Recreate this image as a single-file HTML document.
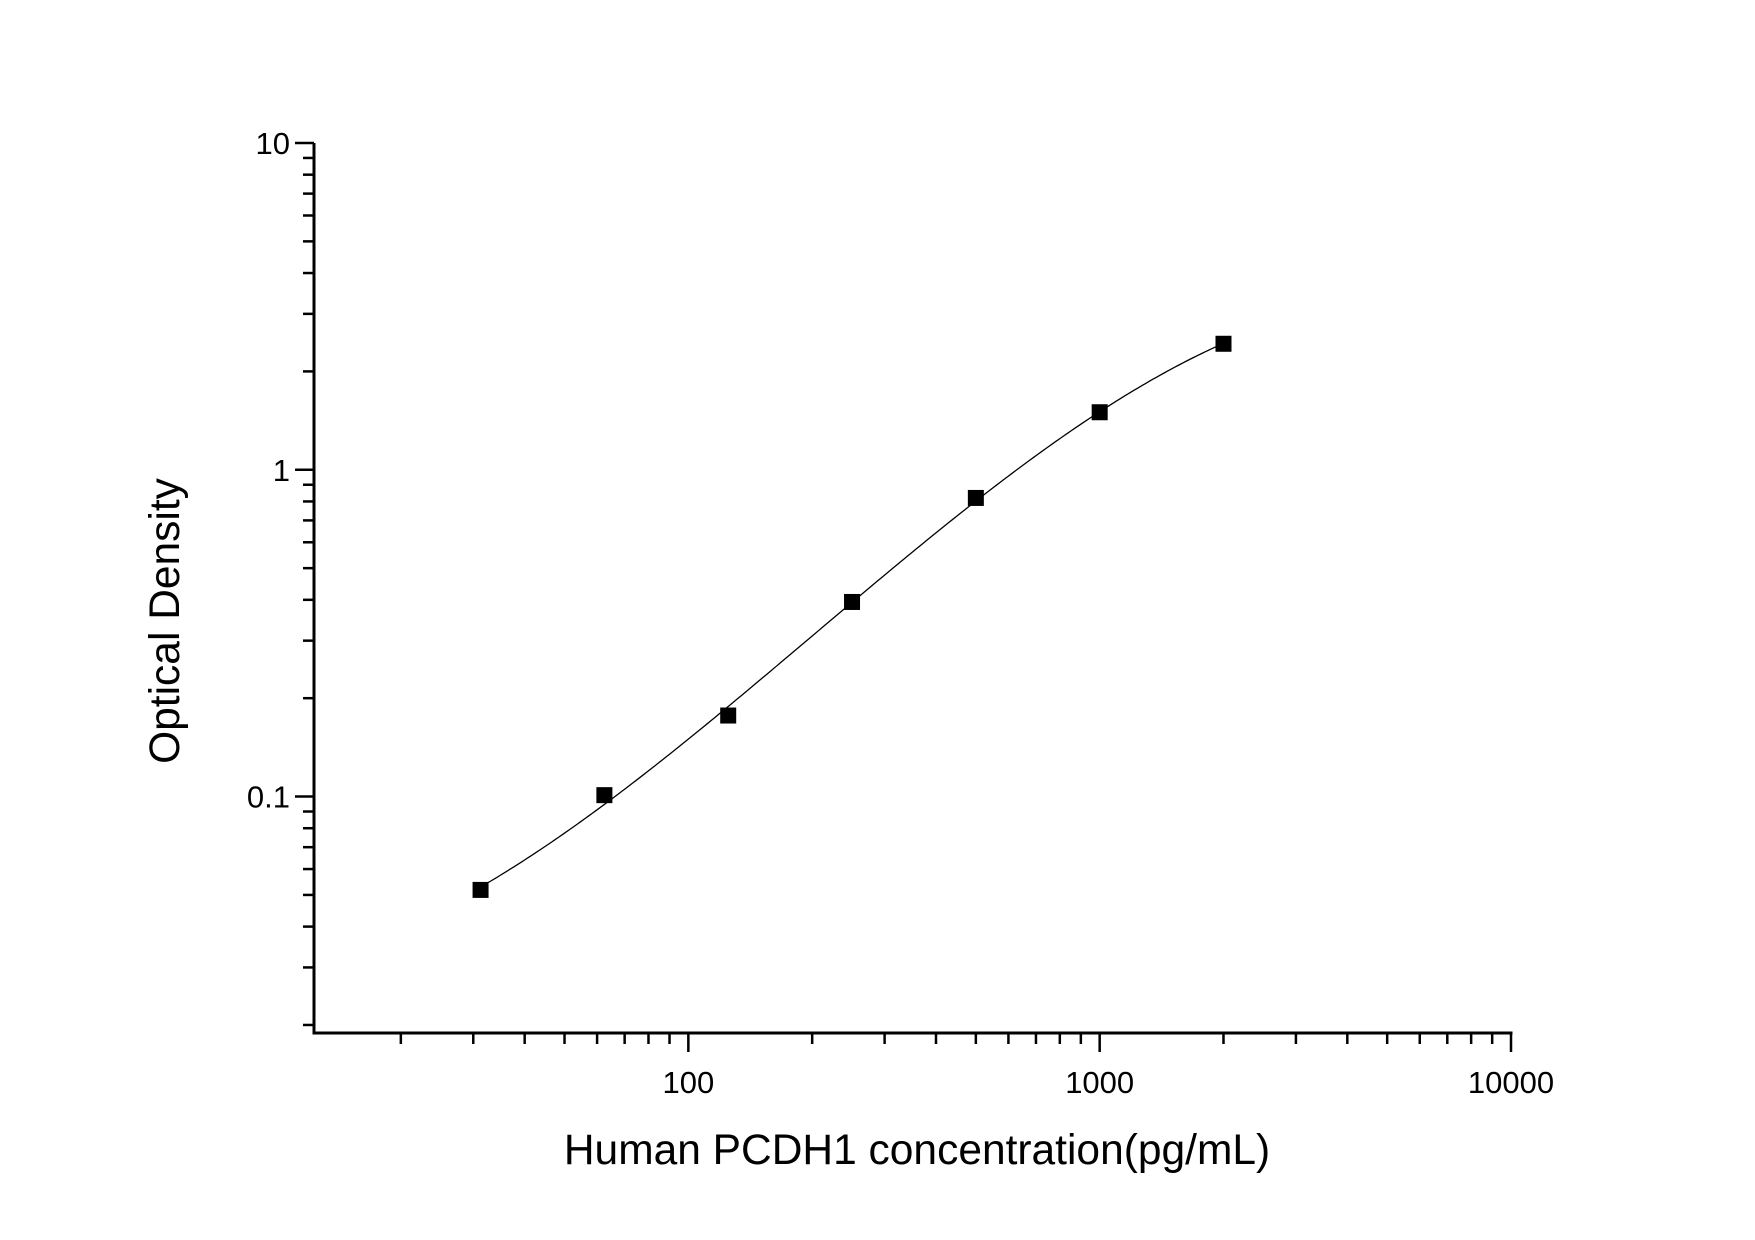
<!DOCTYPE html>
<html><head><meta charset="utf-8"><style>
body{margin:0;background:#fff}
svg{display:block;font-family:"Liberation Sans",Arial,sans-serif}
</style></head><body>
<svg id="chart" width="1755" height="1240" viewBox="0 0 1755 1240" xmlns="http://www.w3.org/2000/svg">
<rect width="1755" height="1240" fill="#fff"/>
<g id="axes"></g>
<g id="series"></g>
<text x="917" y="1164" font-size="42.5" text-anchor="middle">Human PCDH1 concentration(pg/mL)</text>
<text transform="translate(179,621) rotate(-90)" font-size="42.5" text-anchor="middle">Optical Density</text>
</svg>
<script>
const concentrations=[31.25,62.5,125,250,500,1000,2000];
const odValues=[0.0518,0.101,0.177,0.394,0.82,1.50,2.43];
const xTickValues=[100,1000,10000];
const xTickLabels=["100","1000","10000"];
const yTickValues=[0.1,1,10];
const yTickLabels=["0.1","1","10"];
const xMin=12.3,xMax=10000,yMin=0.0189,yMax=10;
const L=314,R=1511,T=143,B=1033;
const NS="http://www.w3.org/2000/svg";
function xs(v){return L+(Math.log10(v)-Math.log10(xMin))/(Math.log10(xMax)-Math.log10(xMin))*(R-L);}
function ys(v){return B-(Math.log10(v)-Math.log10(yMin))/(Math.log10(yMax)-Math.log10(yMin))*(B-T);}
function mk(tag,attrs,parent){const e=document.createElementNS(NS,tag);for(const k in attrs)e.setAttribute(k,attrs[k]);parent.appendChild(e);return e;}
const ax=document.getElementById('axes'),se=document.getElementById('series');
const xl=mk('line',{x1:L,y1:B,x2:R+1.5,y2:B,stroke:'#000','stroke-width':3},ax);


const yl=mk('line',{x1:L,y1:B+1.5,x2:L,y2:T,stroke:'#000','stroke-width':3},ax);


for(let d=10;d<=10000;d*=10){for(let m=1;m<10;m++){const v=d*m;if(v<xMin||v>xMax)continue;const x=xs(v);const major=m===1;
const t=mk('line',{x1:x,y1:B,x2:x,y2:B+(major?19:11),stroke:'#000','stroke-width':2.5},ax);

}}
xTickValues.forEach((v,i)=>{const t=mk('text',{x:xs(v),y:1093,'font-size':31,'text-anchor':'middle'},ax);t.textContent=xTickLabels[i];

});
for(let d=0.01;d<=10;d*=10){for(let m=1;m<10;m++){const v=d*m;if(v<yMin||v>yMax*1.0001)continue;const y=ys(v);const major=m===1;
const t=mk('line',{x1:L,y1:y,x2:L-(major?19:11),y2:y,stroke:'#000','stroke-width':2.5},ax);

}}
yTickValues.forEach((v,i)=>{const t=mk('text',{x:290,y:ys(v)+11,'font-size':31,'text-anchor':'end'},ax);t.textContent=yTickLabels[i];

});
// least-squares cubic fit in log-log space
const lx=concentrations.map(Math.log10),ly=odValues.map(Math.log10);
const n=4,A=[];for(let i=0;i<n;i++){A.push(new Array(n+1).fill(0));}
for(let k=0;k<lx.length;k++){for(let i=0;i<n;i++){for(let j=0;j<n;j++)A[i][j]+=Math.pow(lx[k],i+j);A[i][n]+=ly[k]*Math.pow(lx[k],i);}}
for(let i=0;i<n;i++){let p=i;for(let r=i+1;r<n;r++)if(Math.abs(A[r][i])>Math.abs(A[p][i]))p=r;[A[i],A[p]]=[A[p],A[i]];
for(let r=0;r<n;r++){if(r===i)continue;const f=A[r][i]/A[i][i];for(let c=i;c<=n;c++)A[r][c]-=f*A[i][c];}}
const coef=A.map((row,i)=>row[n]/row[i]);
function fit(x){const l=Math.log10(x);let s=0;for(let i=0;i<n;i++)s+=coef[i]*Math.pow(l,i);return Math.pow(10,s);}
const x0=Math.log10(concentrations[0]),x1=Math.log10(concentrations[concentrations.length-1]);
let d='';for(let s=0;s<=200;s++){const c=Math.pow(10,x0+(x1-x0)*s/200);d+=(s?'L':'M')+xs(c).toFixed(2)+','+ys(fit(c)).toFixed(2);}
const cv=mk('path',{d:d,fill:'none',stroke:'#000','stroke-width':1.3},se);


concentrations.forEach((c,i)=>{const r=mk('rect',{x:xs(c)-8,y:ys(odValues[i])-8,width:16,height:16,fill:'#000'},se);

});
</script>
</body></html>
